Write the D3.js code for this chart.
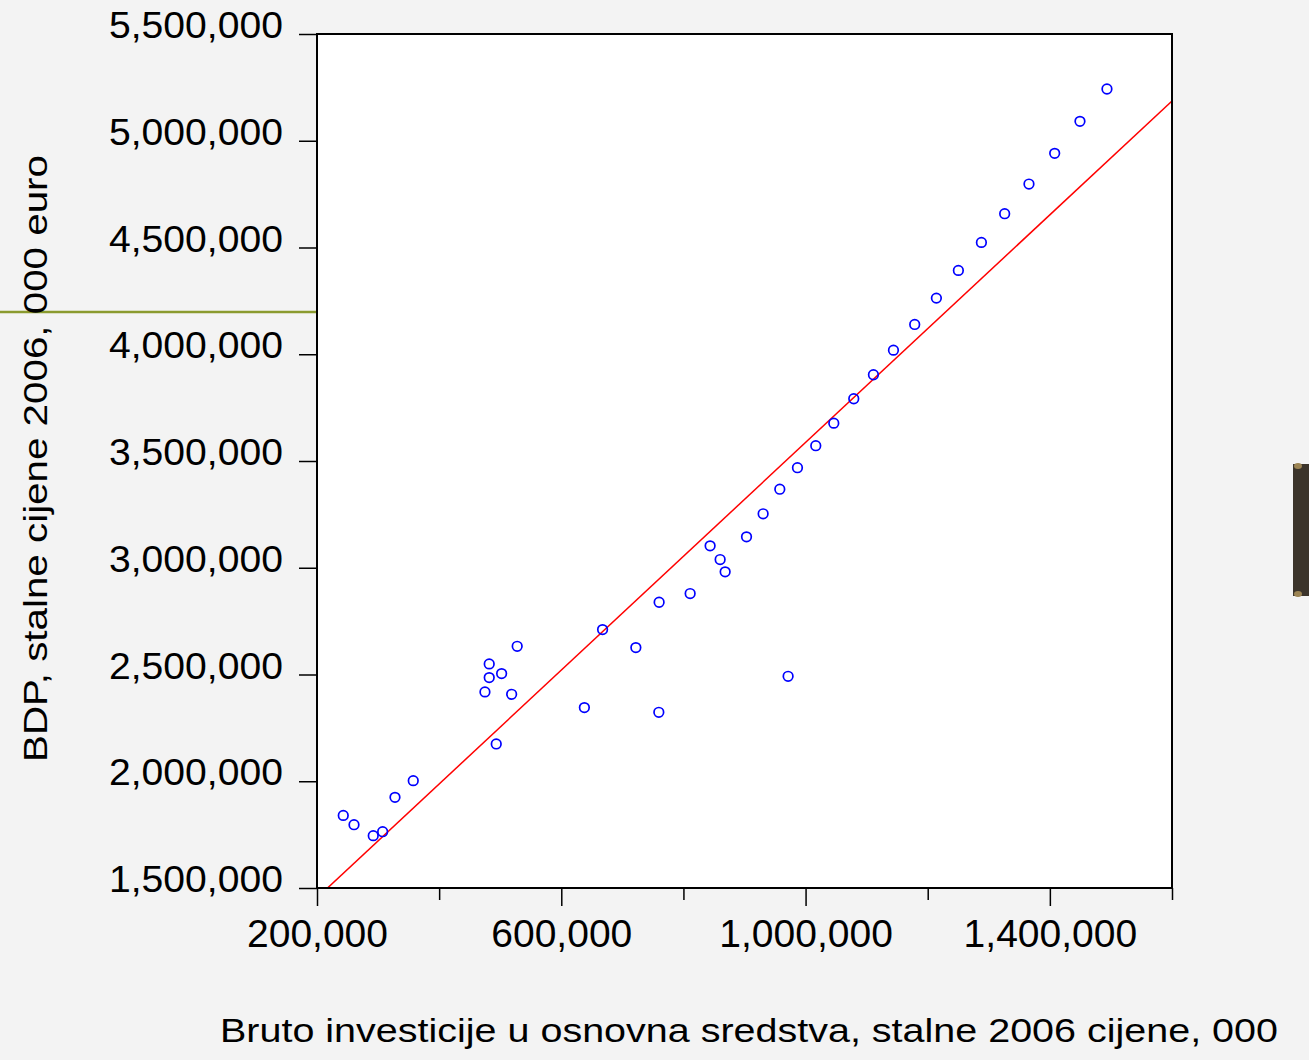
<!DOCTYPE html>
<html>
<head>
<meta charset="utf-8">
<script src="https://cdn.jsdelivr.net/npm/d3@7"></script>
<style>
  body { margin: 0; background: #f3f3f3; }
  svg { display: block; }
  text { font-family: Arial, "Liberation Sans", sans-serif; fill: #000; }
</style>
</head>
<body>
<div id="chart"></div>
<script>
// investment (x) and GDP (y), constant 2006 prices, 000 euro
let invest = [243000, 260600, 292100, 307500, 327700, 357600, 475000, 482000, 482000, 502300,
	518700, 527800, 493500, 637800, 667600, 722100, 759700, 760200, 811000, 843700,
	860100, 868300, 903300, 930500, 957800, 971400, 986700, 1016700, 1046200, 1078900,
	1111100, 1143900, 1178700, 1214200, 1250200, 1287900, 1326000, 1365800, 1407900, 1449300,
	1493500]
let gdp = [1840000, 1796600, 1745100, 1763800, 1924600, 2002800, 2418500, 2549700, 2485500, 2504200,
	2407200, 2632100, 2174800, 2344900, 2710400, 2626100, 2322900, 2838300, 2879100, 3102600,
	3038400, 2980800, 3144800, 3252600, 3367900, 2491600, 3468600, 3571700, 3677200, 3791500,
	3903900, 4019200, 4139600, 4262900, 4392700, 4523900, 4658400, 4797100, 4941000, 5090900,
	5242300]

// fitted line
let fitIntercept = 920700
let fitSlope = 2.666

let xTicks = [200000, 400000, 600000, 800000, 1000000, 1200000, 1400000, 1600000]
let xLabelled = [200000, 600000, 1000000, 1400000]
let yTicks = [1500000, 2000000, 2500000, 3000000, 3500000, 4000000, 4500000, 5000000, 5500000]

let width = 1309
let height = 1060
let margin = ({top: 34, right: 137, bottom: 172, left: 317})

let x = d3.scaleLinear()
	.domain([200000, 1600000])
	.range([margin.left, width - margin.right])

let y = d3.scaleLinear()
	.domain([1500000, 5500000])
	.range([height - margin.bottom, margin.top])

let fmt = d3.format(',')

const svg = d3.select('#chart')
	.append('svg')
	.attr('width', width)
	.attr('height', height)

// slide decorations
svg.append('line')
	.attr('x1', 0).attr('x2', margin.left)
	.attr('y1', 312).attr('y2', 312)
	.attr('stroke', '#8a9a2e')
	.attr('stroke-width', 2.5)

svg.append('rect')
	.attr('x', 1293).attr('y', 464)
	.attr('width', 16).attr('height', 132)
	.attr('fill', '#3b342b')
svg.append('ellipse').attr('cx', 1298).attr('cy', 466).attr('rx', 4).attr('ry', 3).attr('fill', '#9c8453')
svg.append('ellipse').attr('cx', 1298).attr('cy', 594).attr('rx', 4).attr('ry', 3).attr('fill', '#9c8453')

// plot area
svg.append('rect')
	.attr('x', x(200000))
	.attr('y', y(5500000))
	.attr('width', x(1600000) - x(200000))
	.attr('height', y(1500000) - y(5500000))
	.attr('fill', '#fff')

svg.append('clipPath')
	.attr('id', 'plotclip')
	.append('rect')
	.attr('x', x(200000))
	.attr('y', y(5500000))
	.attr('width', x(1600000) - x(200000))
	.attr('height', y(1500000) - y(5500000))

// fit line
let xd = x.domain()
svg.append('line')
	.attr('clip-path', 'url(#plotclip)')
	.attr('x1', x(xd[0])).attr('y1', y(fitIntercept + fitSlope * xd[0]))
	.attr('x2', x(xd[1])).attr('y2', y(fitIntercept + fitSlope * xd[1]))
	.attr('stroke', '#ff0000')
	.attr('stroke-width', 1.5)

// points
svg.selectAll('.pt')
	.data(invest)
	.enter()
	.append('circle')
	.attr('class', 'pt')
	.attr('cx', (d, i) => x(d))
	.attr('cy', (d, i) => y(gdp[i]))
	.attr('r', 4.8)
	.attr('fill', 'none')
	.attr('stroke', '#0000ff')
	.attr('stroke-width', 1.7)

// frame
svg.append('rect')
	.attr('x', x(200000))
	.attr('y', y(5500000))
	.attr('width', x(1600000) - x(200000))
	.attr('height', y(1500000) - y(5500000))
	.attr('fill', 'none')
	.attr('stroke', '#000')
	.attr('stroke-width', 2)

// y axis
let yAxis = svg.append('g')
	.attr('transform', `translate(${margin.left},0)`)
	.call(d3.axisLeft(y).tickValues(yTicks).tickFormat(fmt).tickSize(18).tickPadding(16))
yAxis.select('.domain').remove()
yAxis.selectAll('.tick line').attr('stroke', '#000').attr('stroke-width', 1.5)
yAxis.selectAll('.tick text')
	.attr('dy', 0)
	.attr('y', 3.5)
	.attr('textLength', 174)
	.attr('lengthAdjust', 'spacingAndGlyphs')
	.style('font-size', '37px')
	.style('font-family', 'Arial, "Liberation Sans", sans-serif')

// x axis
let xAxis = svg.append('g')
	.attr('transform', `translate(0,${height - margin.bottom})`)
	.call(d3.axisBottom(x).tickValues(xTicks).tickFormat(d => xLabelled.includes(d) ? fmt(d) : '').tickSize(18))
xAxis.select('.domain').remove()
xAxis.selectAll('.tick line')
	.attr('stroke', '#000')
	.attr('stroke-width', 1.5)
	.attr('y2', d => xLabelled.includes(d) ? 18 : 12)
xAxis.selectAll('.tick text')
	.attr('dy', 0)
	.attr('y', 58.5)
	.style('font-size', '39px')
	.style('font-family', 'Arial, "Liberation Sans", sans-serif')

// axis titles
svg.append('text')
	.attr('x', 220)
	.attr('y', 1042)
	.attr('textLength', 1058)
	.attr('lengthAdjust', 'spacingAndGlyphs')
	.style('font-size', '33px')
	.text('Bruto investicije u osnovna sredstva, stalne 2006 cijene, 000')

svg.append('text')
	.attr('transform', 'translate(47,762) rotate(-90)')
	.attr('textLength', 607)
	.attr('lengthAdjust', 'spacingAndGlyphs')
	.style('font-size', '34px')
	.text('BDP, stalne cijene 2006, 000 euro')
</script>
</body>
</html>
